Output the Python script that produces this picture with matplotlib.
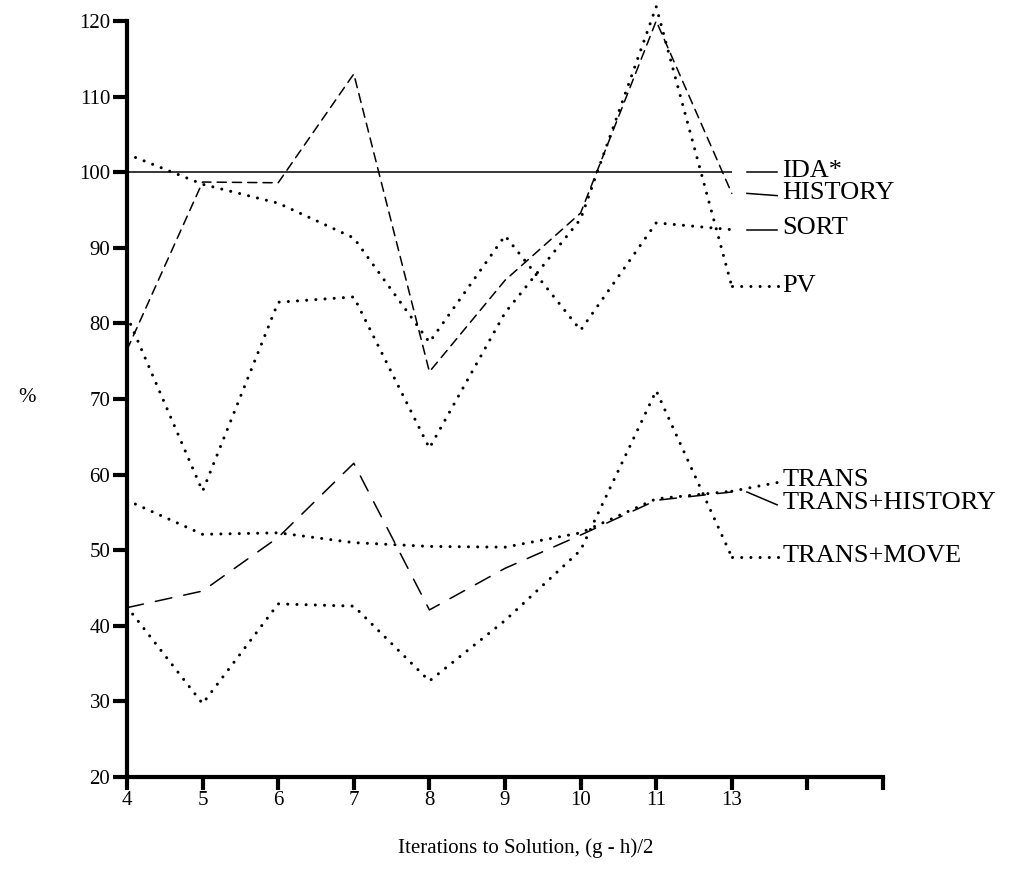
import numpy as np
import matplotlib
matplotlib.use('Agg')
import matplotlib.pyplot as plt

plt.rcParams['font.family'] = ['Liberation Serif', 'DejaVu Serif']

# categories (iterations to solution) - evenly spaced, two extra empty ticks
iterations = ['4', '5', '6', '7', '8', '9', '10', '11', '13']
n_ticks = 11

ida = [100, 100, 100, 100, 100, 100, 100, 100, 100]
history = [76.5, 98.7, 98.6, 113.0, 73.6, 85.7, 94.6, 120.0, 97.2]
sort_ = [102.4, 98.4, 95.9, 91.3, 77.5, 91.6, 79.1, 93.3, 92.4]
pv = [81.0, 57.8, 82.8, 83.5, 63.5, 81.4, 93.8, 121.9, 84.9]
trans = [56.6, 52.1, 52.3, 51.0, 50.5, 50.4, 52.3, 56.8, 57.8]
trans_history = [42.4, 44.6, 51.7, 61.5, 42.1, 47.6, 52.0, 56.6, 57.7]
trans_move = [42.5, 29.7, 42.9, 42.6, 32.7, 40.7, 50.0, 71.1, 49.1]

labels = ['IDA*', 'HISTORY', 'SORT', 'PV', 'TRANS', 'TRANS+HISTORY', 'TRANS+MOVE']
label_y = [100.2, 97.2, 92.6, 85.0, 59.3, 56.3, 49.2]
# where each leader line meets its label
lead_end = [100, 96.9, 92.4, 84.9, 59.0, 56.0, 49.1]

dot = (0, (0.01, 3.0))
series = [
    (ida, '-', 1.1, '-'),
    (history, (0, (6, 4)), 1.1, '-'),
    (sort_, dot, 2.2, '-'),
    (pv, dot, 2.2, dot),
    (trans, dot, 2.2, dot),
    (trans_history, (0, (11, 8)), 1.1, '-'),
    (trans_move, dot, 2.2, dot),
]

fig = plt.figure(figsize=(10.09, 8.86), dpi=100)
ax = fig.add_axes([127 / 1009, 109 / 886, 756 / 1009, 756 / 886])

x = np.arange(len(iterations))
last = x[-1]
for (vals, ls, lw, lead_ls), lab, ly, le in zip(series, labels, label_y, lead_end):
    ax.plot(x, vals, color='black', linestyle=ls, linewidth=lw,
            dash_capstyle='round', solid_capstyle='butt', clip_on=False)
    # leader line to the label
    if lead_ls == '-':
        ax.plot([last + 0.2, last + 0.6], [vals[-1], le], color='black',
                linewidth=1.1, clip_on=False)
    else:
        ax.plot([last, last + 0.63], [vals[-1], le], color='black',
                linestyle=lead_ls, linewidth=lw, dash_capstyle='round', clip_on=False)
    ax.text(last + 0.67, ly, lab, fontsize=19, va='center', ha='left')

ax.set_xlim(0, n_ticks - 1)
ax.set_ylim(20, 120)
ax.set_xticks(np.arange(n_ticks))
ax.set_xticklabels(iterations + [''] * (n_ticks - len(iterations)), fontsize=15)
ax.set_yticks(np.arange(20, 121, 10))
ax.tick_params(axis='y', labelsize=15, length=10, width=3, direction='out', pad=2)
ax.tick_params(axis='x', labelsize=15, length=9, width=3, direction='out', pad=1)

for side in ['top', 'right']:
    ax.spines[side].set_visible(False)
ax.spines['left'].set_linewidth(3)
ax.spines['bottom'].set_linewidth(3)

fig.text(18 / 1009, 1 - 398 / 886, '%', fontsize=15, ha='left', va='center')
fig.text(526 / 1009, 1 - 848 / 886, 'Iterations to Solution, (g - h)/2',
         fontsize=15, ha='center', va='center')

fig.savefig('out.png', dpi=100)
